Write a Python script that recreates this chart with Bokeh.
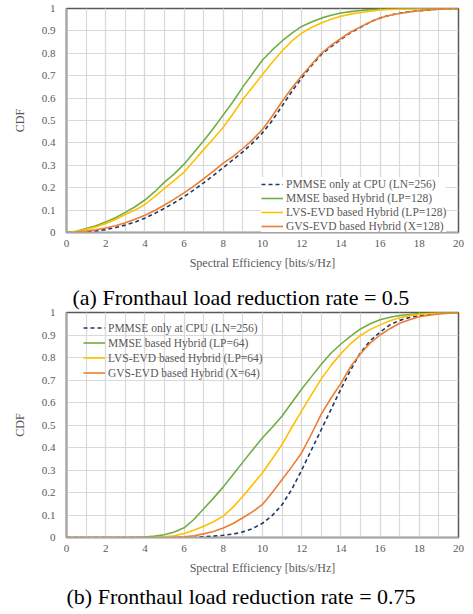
from bokeh.plotting import figure
from bokeh.models import Legend, LegendItem, Title, FixedTicker, SingleIntervalTicker, Range1d
from bokeh.layouts import column
from bokeh.embed import file_html
from bokeh.resources import INLINE

FONT = "'Liberation Serif', serif"

# ---------------- data ----------------
x_vals = [i * 0.5 for i in range(41)]  # 0 .. 20 step 0.5

series_names_a = [
    "PMMSE only at CPU (LN=256)",
    "MMSE based Hybrid (LP=128)",
    "LVS-EVD based Hybrid (LP=128)",
    "GVS-EVD based Hybrid (X=128)",
]
series_names_b = [
    "PMMSE only at CPU (LN=256)",
    "MMSE based Hybrid (LP=64)",
    "LVS-EVD based Hybrid (LP=64)",
    "GVS-EVD based Hybrid (X=64)",
]
caption_a = "(a) Fronthaul load reduction rate = 0.5"
caption_b = "(b) Fronthaul load reduction rate = 0.75"

# panel (a): fronthaul load reduction rate = 0.5
a_pmmse = [0, .001, .003, .007, .013, .022, .033, .047, .064, .085, .108, .133, .16, .19,
           .222, .255, .29, .325, .36, .4, .445, .5, .565, .63, .69, .745, .795, .83, .862,
           .892, .916, .94, .958, .97, .979, .985, .99, .994, .997, .999, 1]
a_mmse = [0, .005, .018, .03, .047, .066, .09, .115, .145, .182, .225, .262, .305, .357, .41,
          .465, .525, .585, .65, .71, .77, .815, .855, .89, .92, .94, .957, .97, .98, .986,
          .991, .995, .997, .999, 1, 1, 1, 1, 1, 1, 1]
a_lvs = [0, .004, .014, .025, .04, .058, .08, .1, .125, .16, .197, .233, .27, .32, .37, .42,
         .47, .53, .595, .65, .705, .76, .81, .855, .89, .915, .935, .952, .965, .975, .982,
         .988, .993, .996, .998, .999, 1, 1, 1, 1, 1]
a_gvs = [0, .002, .006, .012, .02, .03, .043, .059, .077, .098, .123, .149, .177, .207, .24,
         .274, .31, .34, .375, .415, .46, .52, .585, .645, .7, .75, .8, .835, .866, .895,
         .918, .94, .958, .97, .978, .985, .99, .994, .997, .999, 1]

# panel (b): fronthaul load reduction rate = 0.75
b_pmmse = [0, 0, 0, 0, 0, 0, 0, 0, 0, 0, 0, 0, 0, 0, .003, .006, .01, .015, .025, .04, .063,
           .098, .146, .215, .3, .39, .48, .57, .66, .745, .822, .875, .913, .945, .965,
           .978, .986, .991, .996, .998, 1]
b_mmse = [0, 0, 0, 0, 0, 0, 0, .001, .002, .006, .012, .024, .043, .08, .128, .175, .225,
          .28, .335, .39, .443, .49, .54, .6, .66, .715, .77, .82, .86, .895, .927, .95,
          .968, .979, .987, .991, .995, .997, .999, 1, 1]
b_lvs = [0, 0, 0, 0, 0, 0, 0, 0, 0, .001, .003, .008, .018, .032, .05, .07, .095, .135,
         .183, .235, .288, .35, .414, .49, .563, .635, .705, .765, .817, .862, .898, .925,
         .945, .963, .977, .986, .992, .995, .998, .999, 1]
b_gvs = [0, 0, 0, 0, 0, 0, 0, 0, 0, 0, 0, .001, .003, .008, .016, .027, .042, .062, .088,
         .115, .147, .2, .258, .315, .377, .46, .548, .62, .685, .76, .817, .865, .9, .928,
         .952, .968, .981, .988, .993, .997, 1]

y_ticks = [0, 0.1, 0.2, 0.3, 0.4, 0.5, 0.6, 0.7, 0.8, 0.9, 1]
y_tick_labels = ["0", "0.1", "0.2", "0.3", "0.4", "0.5", "0.6", "0.7", "0.8", "0.9", "1"]

colors = ["#203864", "#70ad47", "#ffc000", "#ed7d31"]
dashes = ["4 3", "solid", "solid", "solid"]

GRID = "#d9d9d9"
TXT = "#595959"


def caption_title(text, offset, standoff):
    return Title(text=text, align="left", offset=offset, text_font=FONT,
                 text_font_size="22px", text_font_style="normal", text_color="black",
                 standoff=standoff)


def make_panel(series, names, height, top_border, legend_loc, legend_alpha, row_h):
    p = figure(width=465, height=height, output_backend="svg", toolbar_location=None,
               x_range=Range1d(0, 20), y_range=Range1d(0, 1),
               min_border_left=66, min_border_right=7, min_border_top=top_border,
               min_border_bottom=0)
    p.background_fill_color = "white"
    p.border_fill_color = "white"
    p.outline_line_color = "#595959"
    p.outline_line_width = 1.5

    p.xaxis.ticker = SingleIntervalTicker(interval=2, num_minor_ticks=2)
    p.yaxis.ticker = FixedTicker(ticks=y_ticks)
    p.yaxis.major_label_overrides = {t: l for t, l in zip(y_ticks, y_tick_labels)}

    p.xgrid.grid_line_color = GRID
    p.xgrid.grid_line_width = 1.2
    p.xgrid.minor_grid_line_color = GRID
    p.xgrid.minor_grid_line_width = 1.2
    p.ygrid.grid_line_color = GRID
    p.ygrid.grid_line_width = 1.2

    for ax in (p.xaxis, p.yaxis):
        ax.major_tick_out = 0
        ax.major_tick_in = 0
        ax.minor_tick_out = 0
        ax.minor_tick_in = 0
        ax.major_label_text_font = FONT
        ax.major_label_text_font_size = "11px"
        ax.major_label_text_color = TXT
        ax.axis_label_text_font = FONT
        ax.axis_label_text_font_size = "12px"
        ax.axis_label_text_font_style = "normal"
        ax.axis_label_text_color = TXT
    p.xaxis.axis_line_color = "#a6a6a6"
    p.xaxis.axis_line_width = 1.5
    p.yaxis.axis_line_color = "#a6a6a6"
    p.yaxis.axis_line_width = 2
    p.xaxis.axis_label = "Spectral Efficiency [bits/s/Hz]"
    p.yaxis.axis_label = "CDF"
    p.xaxis.major_label_standoff = 7
    p.xaxis.axis_label_standoff = 6
    p.yaxis.major_label_standoff = 11
    p.yaxis.axis_label_standoff = 12

    items = []
    for ys, name, c, d in zip(series, names, colors, dashes):
        r = p.line(x_vals, ys, line_color=c, line_width=1.6, line_dash=d)
        items.append(LegendItem(label=name, renderers=[r]))

    leg = Legend(items=items, location=legend_loc,
                 label_text_font=FONT, label_text_font_size="11.5px",
                 label_text_color=TXT, glyph_width=22, glyph_height=row_h,
                 label_height=row_h, label_standoff=3, spacing=0, padding=2, margin=0,
                 border_line_color=None, background_fill_color="white",
                 background_fill_alpha=legend_alpha)
    p.add_layout(leg)
    return p


p1 = make_panel([a_pmmse, a_mmse, a_lvs, a_gvs], series_names_a, 272, 8, (195, -1), 1.0, 14)
p2 = make_panel([b_pmmse, b_mmse, b_lvs, b_gvs], series_names_b, 341, 40, (17, 157), 0.0, 15)
# caption of panel (a) sits between the two plots, caption of panel (b) under the second
p2.add_layout(caption_title(caption_a, 6, 5.5), "above")
p2.add_layout(caption_title(caption_b, 0, 9), "below")

layout = column(p1, p2, spacing=0)
open("out.html", "w").write(file_html(layout, INLINE))
